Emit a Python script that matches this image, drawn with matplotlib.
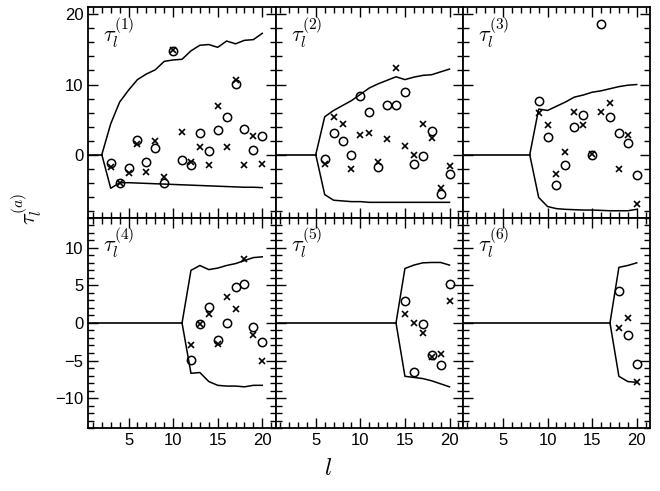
import numpy as np
import matplotlib
matplotlib.use("Agg")
import matplotlib.pyplot as plt
from matplotlib.ticker import MultipleLocator

plt.rcParams['font.family'] = ['Liberation Sans', 'DejaVu Sans']
plt.rcParams['mathtext.fontset'] = 'cm'

# multipole l for each panel (data starts at l = 3a, bound starts at l = 3a-1)
l1 = list(range(3, 21))
circ1 = [-1.2, -4.1, -1.9, 2.1, -1.05, 0.9, -4.0, 14.8, -0.7, -1.5, 3.05, 0.55, 3.5, 5.4, 10.1, 3.7, 0.7, 2.7]
cross1 = [-1.8, -4.0, -2.6, 1.5, -2.5, 2.0, -3.2, 14.9, 3.2, -1.05, 1.05, -1.45, 6.9, 1.05, 10.7, -1.45, 2.6, -1.3]
lb1 = list(range(2, 21))
upper1 = [0, 4.4, 7.5, 9.2, 10.7, 11.5, 12.1, 13.3, 13.5, 13.6, 14.8, 15.6, 15.7, 15.3, 16.2, 15.8, 16.3, 16.4, 17.3]
lower1 = [0, -4.8, -4.0, -4.0, -4.05, -4.1, -4.15, -4.2, -4.25, -4.3, -4.35, -4.4, -4.45, -4.5, -4.55, -4.6, -4.65, -4.65, -4.7]

l2 = list(range(6, 21))
circ2 = [-0.6, 3.05, 2.0, 0.0, 8.3, 6.05, -1.7, 7.1, 7.05, 8.9, -1.35, -0.2, 3.4, -5.6, -2.7]
cross2 = [-1.35, 5.4, 4.3, -2.0, 2.85, 3.05, -1.05, 2.3, 12.3, 1.25, 0.0, 4.3, 2.4, -4.8, -1.6]
lb2 = list(range(5, 21))
upper2 = [0, 5.4, 6.3, 7.0, 7.7, 8.6, 9.5, 10.1, 10.6, 11.1, 10.7, 11.05, 11.3, 11.4, 11.8, 12.2]
lower2 = [0, -5.7, -6.5, -6.6, -6.7, -6.7, -6.8, -6.8, -6.8, -6.8, -6.8, -6.8, -6.8, -6.8, -6.8, -6.8]

l3 = list(range(9, 21))
circ3 = [7.7, 2.5, -4.3, -1.5, 4.0, 5.6, 0.0, 18.6, 5.4, 3.05, 1.7, -2.95]
cross3 = [6.0, 4.2, -2.75, 0.4, 6.1, 4.2, 0.1, 6.1, 7.4, -2.1, 2.75, -7.1]
lb3 = list(range(8, 21))
upper3 = [0, 6.5, 6.3, 6.9, 7.5, 8.2, 8.5, 8.9, 9.1, 9.4, 9.7, 9.9, 10.0]
lower3 = [0, -6.1, -7.4, -7.7, -7.8, -7.85, -7.9, -7.9, -7.95, -8.0, -8.0, -8.0, -7.8]

l4 = list(range(12, 21))
circ4 = [-4.9, -0.2, 2.1, -2.3, 0.0, 4.8, 5.2, -0.6, -2.6]
cross4 = [-3.0, -0.1, 1.15, -2.8, 3.5, 1.85, 8.5, -1.6, -5.1]
lb4 = list(range(11, 21))
upper4 = [0, 7.0, 7.65, 7.1, 7.3, 7.65, 7.9, 8.3, 8.7, 8.8]
lower4 = [0, -6.7, -6.6, -7.8, -8.3, -8.4, -8.4, -8.5, -8.3, -8.3]

l5 = list(range(15, 21))
circ5 = [2.9, -6.5, -0.1, -4.2, -5.6, 5.15]
cross5 = [1.15, 0.0, -1.3, -4.5, -4.1, 2.9]
lb5 = list(range(14, 21))
upper5 = [0, 7.25, 7.7, 8.0, 8.05, 8.05, 7.7]
lower5 = [0, -7.1, -7.25, -7.4, -7.7, -8.1, -8.5]

l6 = list(range(18, 21))
circ6 = [4.25, -1.6, -5.4]
cross6 = [-0.7, 0.6, -7.8]
lb6 = list(range(17, 21))
upper6 = [0, 7.4, 7.65, 8.0]
lower6 = [0, -7.1, -7.8, -7.9]

panels = [
    (l1, circ1, cross1, lb1, upper1, lower1),
    (l2, circ2, cross2, lb2, upper2, lower2),
    (l3, circ3, cross3, lb3, upper3, lower3),
    (l4, circ4, cross4, lb4, upper4, lower4),
    (l5, circ5, cross5, lb5, upper5, lower5),
    (l6, circ6, cross6, lb6, upper6, lower6),
]

fig, axes = plt.subplots(2, 3, figsize=(6.6, 4.91), dpi=100, sharex=True)
fig.subplots_adjust(left=0.134, right=0.985, top=0.985, bottom=0.128, wspace=0, hspace=0)

for i, ax in enumerate(axes.flat):
    l, circ, cross, lb, up, lo = panels[i]
    ax.plot([0, lb[0]], [0, 0], color='k', lw=1.2)
    ax.plot(lb, up, color='k', lw=1.1)
    ax.plot(lb, lo, color='k', lw=1.1)
    ax.plot(l, circ, 'o', ms=6, mfc='none', mec='k', mew=1.1)
    ax.plot(l, cross, 'x', ms=4.5, color='k', mew=1.2)
    ax.set_xlim(0.5, 21.5)
    if i < 3:
        ax.set_ylim(-9, 21)
        ax.yaxis.set_major_locator(MultipleLocator(10))
        ax.yaxis.set_minor_locator(MultipleLocator(2))
    else:
        ax.set_ylim(-14, 14)
        ax.yaxis.set_major_locator(MultipleLocator(5))
        ax.yaxis.set_minor_locator(MultipleLocator(1))
    ax.xaxis.set_major_locator(MultipleLocator(5))
    ax.xaxis.set_minor_locator(MultipleLocator(1))
    ax.tick_params(which='both', direction='in', top=True, right=True, labelsize=12, width=1.0)
    ax.tick_params(which='major', length=7)
    ax.tick_params(which='minor', length=4)
    if i % 3 != 0:
        ax.tick_params(labelleft=False)
    for s in ax.spines.values():
        s.set_linewidth(1.3)
    ax.text(0.08, 0.96, r'$\tau_l^{(%d)}$' % (i + 1), transform=ax.transAxes,
            va='top', ha='left', fontsize=16)

fig.text(0.04, 0.575, r'$\tau_l^{(a)}$', rotation=90, fontsize=16, ha='center', va='center')
fig.text(0.497, 0.045, r'$l$', fontsize=17, ha='center', va='center')

plt.savefig('out.png', dpi=100)
